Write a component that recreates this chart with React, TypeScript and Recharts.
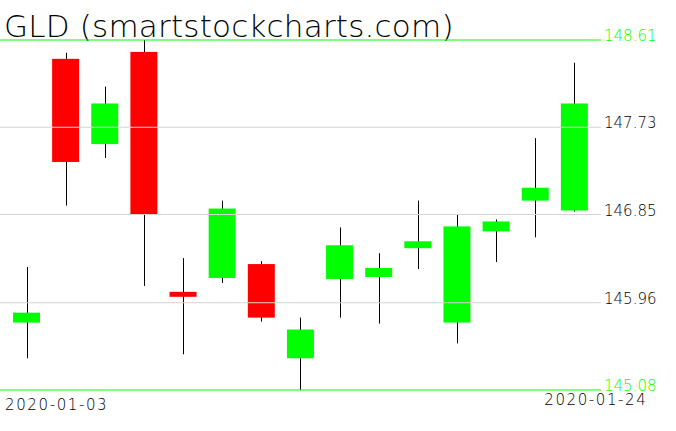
import React from 'react';
import {
  ComposedChart,
  Bar,
  XAxis,
  YAxis,
  ReferenceLine,
} from 'recharts';

const dates = [
  '2020-01-03', '2020-01-06', '2020-01-07', '2020-01-08', '2020-01-09',
  '2020-01-10', '2020-01-13', '2020-01-14', '2020-01-15', '2020-01-16',
  '2020-01-17', '2020-01-21', '2020-01-22', '2020-01-23', '2020-01-24',
];
const opens = [
  145.76, 148.42, 147.56, 148.49, 146.07, 146.21, 146.35, 145.40,
  146.20, 146.22, 146.51, 145.76, 146.68, 146.99, 146.89,
];
const closes = [
  145.86, 147.38, 147.97, 146.85, 146.02, 146.91, 145.81, 145.69,
  146.54, 146.31, 146.58, 146.73, 146.78, 147.12, 147.97,
];
const highs = [
  146.32, 148.48, 148.14, 148.61, 146.41, 146.99, 146.38, 145.81,
  146.72, 146.46, 146.99, 146.85, 146.80, 147.62, 148.38,
];
const lows = [
  145.40, 146.94, 147.42, 146.13, 145.44, 146.16, 145.77, 145.08,
  145.81, 145.75, 146.30, 145.55, 146.37, 146.62, 146.88,
];

const yTicks = [145.08, 145.96, 146.85, 147.73, 148.61];
const gridTicks = [145.96, 146.85, 147.73];

const UP = '#00ff00';
const DOWN = '#ff0000';
const FONT = '"DejaVu Sans", sans-serif';

const data = dates.map((date, i) => ({
  date,
  open: opens[i],
  close: closes[i],
  high: highs[i],
  low: lows[i],
  range: [lows[i], highs[i]],
}));

const Candle = (props: any) => {
  const { x, y, width, height, payload } = props;
  const top = Math.min(y, y + height);
  const h = Math.abs(height);
  const { open, close, high, low } = payload;
  const ppu = h / (high - low);
  const yOpen = top + (high - open) * ppu;
  const yClose = top + (high - close) * ppu;
  const cx = Math.round(x + width / 2) + 0.5;
  const bodyTop = Math.min(yOpen, yClose);
  const bodyH = Math.max(Math.abs(yOpen - yClose), 1);
  return (
    <g>
      <line x1={cx} x2={cx} y1={top} y2={top + h} stroke="#000" strokeWidth={1} />
      <rect
        x={x}
        y={bodyTop}
        width={width}
        height={bodyH}
        fill={close >= open ? UP : DOWN}
      />
    </g>
  );
};

const YTick = (props: any) => {
  const { x, y, payload } = props;
  const v = payload.value;
  const edge = v === yTicks[0] || v === yTicks[yTicks.length - 1];
  return (
    <text
      x={x - 5}
      y={y + 1}
      fontFamily={FONT}
      fontWeight={200}
      fontSize={15}
      fill={edge ? UP : '#000'}
      textAnchor="start"
    >
      {v.toFixed(2)}
    </text>
  );
};

// only the first and last dates get a label, the last one sits a bit higher
const XTick = (props: any) => {
  const { x, y, payload, index } = props;
  const last = dates.length - 1;
  if (index !== 0 && index !== last) return null;
  return (
    <text
      x={index === 0 ? x - 21.5 : x + 73}
      y={index === 0 ? y + 12 : y + 7}
      fontFamily={FONT}
      fontWeight={200}
      fontSize={15}
      letterSpacing={1.6}
      fill="#000"
      textAnchor={index === 0 ? 'start' : 'end'}
    >
      {payload.value}
    </text>
  );
};

export default function App() {
  return (
    <div style={{ position: 'absolute', left: 0, top: 0, width: 676, height: 431, background: '#fff' }}>
      <ComposedChart
        width={676}
        height={431}
        data={data}
        margin={{ top: 40, right: 0, bottom: 0, left: 0 }}
      >
        <text
          x={4}
          y={37}
          fontFamily={FONT}
          fontWeight={200}
          fontSize={31}
          letterSpacing={0.2}
          fill="#000"
        >
          GLD (smartstockcharts.com)
        </text>
        <XAxis
          dataKey="date"
          height={41}
          axisLine={false}
          tickLine={false}
          interval={0}
          padding={{ left: 7, right: 7 }}
          tick={<XTick />}
        />
        <YAxis
          orientation="right"
          width={75}
          domain={[yTicks[0], yTicks[yTicks.length - 1]]}
          ticks={yTicks}
          allowDataOverflow
          axisLine={false}
          tickLine={false}
          tick={<YTick />}
        />
        <Bar dataKey="range" barSize={27} isAnimationActive={false} shape={<Candle />} />
        {gridTicks.map((t) => (
          <ReferenceLine key={t} y={t} stroke="#d3d3d3" strokeWidth={1} />
        ))}
        <ReferenceLine y={yTicks[0]} stroke={UP} strokeWidth={1} />
        <ReferenceLine y={yTicks[yTicks.length - 1]} stroke={UP} strokeWidth={1} />
      </ComposedChart>
    </div>
  );
}
